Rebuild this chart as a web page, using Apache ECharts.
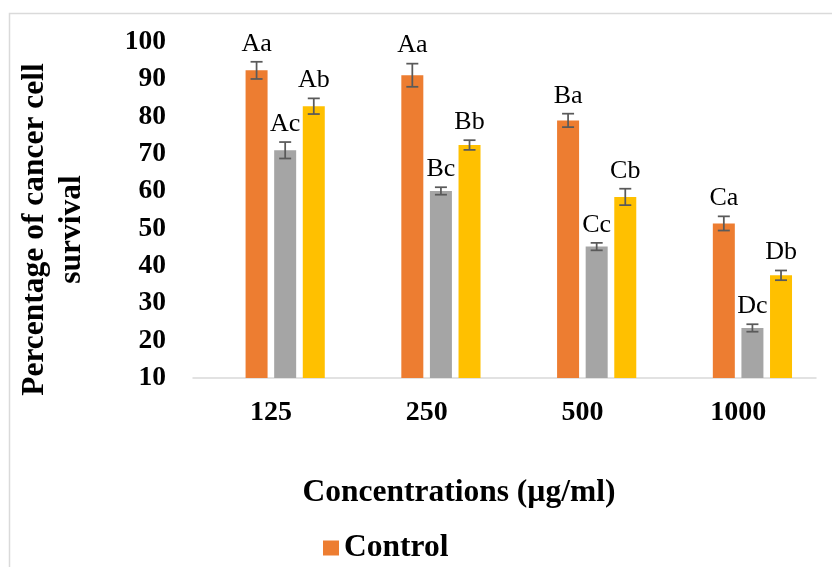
<!DOCTYPE html>
<html>
<head>
<meta charset="utf-8">
<script src="https://cdn.jsdelivr.net/npm/echarts@6/dist/echarts.min.js"></script>
<style>
  html, body { margin: 0; padding: 0; background: #fff; }
  #chart { width: 832px; height: 567px; }
</style>
</head>
<body>
<div id="chart"></div>
<script>
const categories = ['125', '250', '500', '1000']

// values (% survival, mean and error)
const control = [92.4, 91.1, 79.0, 51.4]
const controlErr = [2.3, 3.1, 1.8, 1.9]
const controlLabels = ['Aa', 'Aa', 'Ba', 'Ca']

const grayValues = [71.0, 60.1, 45.2, 23.4]
const grayErr = [2.2, 1.0, 1.0, 1.0]
const grayLabels = ['Ac', 'Bc', 'Cc', 'Dc']

const yellowValues = [82.8, 72.4, 58.5, 37.5]
const yellowErr = [2.1, 1.3, 2.2, 1.3]
const yellowLabels = ['Ab', 'Bb', 'Cb', 'Db']

const yTicks = { min: 10, max: 100, interval: 10 }

const FONT = "'Times New Roman', 'Liberation Serif', serif"
const BAR_W = 22
const PITCH = BAR_W * 1.3

const chart = echarts.init(document.getElementById('chart'))

// error bar + letter label, drawn over the bar in slot k (slot 0 is the empty series)
function errorSeries(values, errs, labels, slot) {
  return {
    type: 'custom',
    z: 10,
    silent: true,
    encode: { x: 0, y: 1 },
    data: values.map((v, i) => [i, v, errs[i]]),
    renderItem: (params, api) => {
      const cat = api.value(0)
      const v = api.value(1)
      const e = api.value(2)
      const x = api.coord([cat, v])[0] + (slot - 1.5) * PITCH
      const top = api.coord([cat, v + e])[1]
      const bot = api.coord([cat, v - e])[1]
      const lineStyle = { stroke: '#5a5a5a', lineWidth: 1.75 }
      return {
        type: 'group',
        children: [
          { type: 'line', shape: { x1: x, y1: top, x2: x, y2: bot }, style: lineStyle },
          { type: 'line', shape: { x1: x - 6, y1: top, x2: x + 6, y2: top }, style: lineStyle },
          { type: 'line', shape: { x1: x - 6, y1: bot, x2: x + 6, y2: bot }, style: lineStyle },
          {
            type: 'text',
            style: {
              x: x, y: top - 5,
              text: labels[params.dataIndex],
              fill: '#000',
              font: '26px ' + FONT,
              align: 'center',
              verticalAlign: 'bottom'
            }
          }
        ]
      }
    }
  }
}

const option = {
  animation: false,
  backgroundColor: '#fff',
  grid: { left: 193, right: 16, top: 42, bottom: 189 },
  legend: {
    data: ['Control'],
    left: 318,
    top: 527,
    icon: 'rect',
    itemWidth: 16,
    itemHeight: 15,
    textStyle: { fontFamily: FONT, fontWeight: 'bold', fontSize: 31.5, lineHeight: 32, color: '#000' }
  },
  graphic: [
    {
      type: 'rect',
      shape: { x: 9.5, y: 13.5, width: 1000, height: 1000 },
      style: { fill: 'none', stroke: '#dadada', lineWidth: 1.5 },
      silent: true
    },
    {
      type: 'text',
      x: 53, y: 229.5,
      rotation: Math.PI / 2,
      style: {
        text: 'Percentage of cancer cell\nsurvival',
        font: 'bold 31.5px ' + FONT,
        lineHeight: 37,
        fill: '#000',
        align: 'center',
        verticalAlign: 'middle'
      }
    },
    {
      type: 'text',
      x: 459, y: 492.5,
      style: {
        text: 'Concentrations (µg/ml)',
        font: 'bold 31.5px ' + FONT,
        fill: '#000',
        align: 'center',
        verticalAlign: 'middle'
      }
    }
  ],
  xAxis: {
    type: 'category',
    data: categories,
    axisLine: { show: true, lineStyle: { color: '#d9d9d9', width: 1.5 } },
    axisTick: { show: false },
    axisLabel: {
      color: '#000', fontFamily: FONT, fontWeight: 'bold', fontSize: 28,
      lineHeight: 28, margin: 21
    },
    splitLine: { show: false }
  },
  yAxis: {
    type: 'value',
    min: yTicks.min,
    max: yTicks.max,
    interval: yTicks.interval,
    axisLine: { show: false },
    axisTick: { show: false },
    splitLine: { show: false },
    axisLabel: { color: '#000', fontFamily: FONT, fontWeight: 'bold', fontSize: 27.5, margin: 27 }
  },
  series: [
    { name: 'blank', type: 'bar', barWidth: BAR_W, barGap: '30%', data: categories.map(() => '-') },
    { name: 'Control', type: 'bar', barWidth: BAR_W, barGap: '30%', data: control, itemStyle: { color: '#ED7D31' } },
    { name: 'Series 3', type: 'bar', barWidth: BAR_W, barGap: '30%', data: grayValues, itemStyle: { color: '#A5A5A5' } },
    { name: 'Series 4', type: 'bar', barWidth: BAR_W, barGap: '30%', data: yellowValues, itemStyle: { color: '#FFC000' } },
    errorSeries(control, controlErr, controlLabels, 1),
    errorSeries(grayValues, grayErr, grayLabels, 2),
    errorSeries(yellowValues, yellowErr, yellowLabels, 3)
  ]
}

chart.setOption(option)
</script>
</body>
</html>
